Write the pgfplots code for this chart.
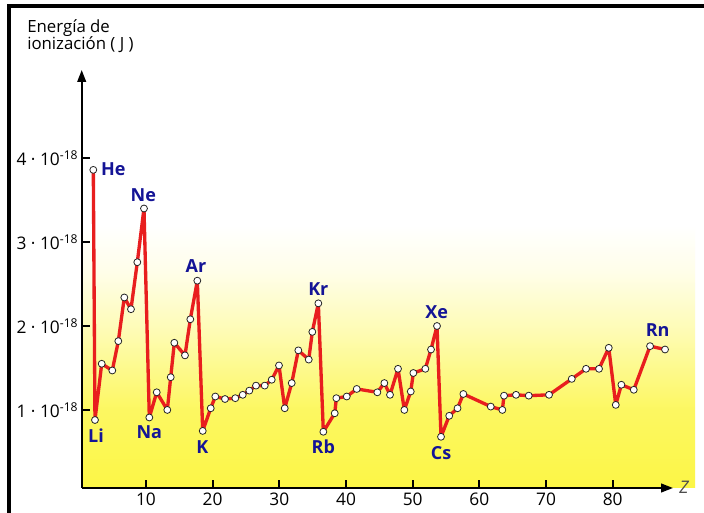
\documentclass[border=0pt]{standalone}
\usepackage{fontspec}
\setmainfont{Open Sans}
\usepackage{pgfplots}
\pgfplotsset{compat=1.18}
\usetikzlibrary{arrows.meta}
\definecolor{yel}{RGB}{252,246,70}
\definecolor{lred}{RGB}{232,30,30}
\definecolor{navy}{RGB}{20,20,150}
\pgfdeclareverticalshading{yelshade}{100bp}{color(0bp)=(yel); color(25bp)=(yel); color(40bp)=(yel!85!white); color(55bp)=(yel!40!white); color(66bp)=(yel!12!white); color(75bp)=(white); color(100bp)=(white)}
\begin{document}
\begin{tikzpicture}[x=0.75pt,y=0.75pt]
\useasboundingbox (0,0) rectangle (704,513);
\fill[white] (0,0) rectangle (704,513);
\shade[shading=yelshade] (82,25) rectangle (695,288);
\draw[line width=3pt] (9,0) -- (9,507) -- (704,507);
\node[anchor=base west, inner sep=0, font=\fontsize{12.6}{14}\selectfont] at (27,480) {Energía de};
\node[anchor=base west, inner sep=0, font=\fontsize{12.6}{14}\selectfont] at (27,463) {ionización ( J )};
\begin{axis}[
  at={(61.28pt,18.75pt)}, anchor=south west,
  scale only axis, width=443.5pt, height=313.5pt,
  xmin=0.36, xmax=89.05, ymin=0.07, ymax=5.05,
  axis x line=bottom, axis y line=left,
  axis line style={line width=1.5pt, -{Triangle[length=9pt,width=6.5pt]}},
  xtick={10,20,30,40,50,60,70,80},
  xticklabels={10,20,30,40,50,60,70,80},
  ytick={1,2,3,4},
  yticklabels={1 · 10\textsuperscript{-18},2 · 10\textsuperscript{-18},3 · 10\textsuperscript{-18},4 · 10\textsuperscript{-18}},
  minor tick num=0,
  tick align=inside, major tick length=6pt,
  tick style={black, line width=1.5pt},
  tick label style={font=\fontsize{13}{15}\selectfont},
  yticklabel style={xshift=1pt},
  clip=false,
]
\addplot[lred, line width=2.5pt, line join=round, mark=*, mark size=2.6pt,
  mark options={fill=white, draw=black!85, line width=0.6pt, solid}] coordinates {
(2.10,3.86) (2.35,0.88) (3.36,1.55) (4.95,1.47) (5.85,1.82) (6.75,2.34)
(7.75,2.20) (8.70,2.76) (9.70,3.40) (10.50,0.91) (11.61,1.21) (13.20,1.00)
(13.71,1.39) (14.25,1.80) (15.85,1.65) (16.65,2.08) (17.70,2.54) (18.51,0.75)
(19.71,1.02) (20.40,1.16) (21.85,1.13) (23.40,1.14) (24.51,1.18) (25.50,1.23)
(26.50,1.29) (27.81,1.29) (28.86,1.36) (29.95,1.53) (30.81,1.02) (31.86,1.32)
(32.85,1.71) (34.41,1.60) (34.95,1.93) (35.85,2.27) (36.60,0.74) (38.31,0.96)
(38.55,1.14) (40.11,1.16) (41.61,1.25) (44.70,1.21) (45.75,1.32) (46.60,1.18)
(47.80,1.49) (48.75,1.00) (49.71,1.22) (50.10,1.44) (51.90,1.49) (52.75,1.72)
(53.65,2.00) (54.25,0.68) (55.48,0.93) (56.73,1.02) (57.60,1.19) (61.71,1.04)
(63.45,1.00) (63.70,1.17) (65.50,1.18) (67.41,1.17) (70.45,1.18) (73.86,1.37)
(76.00,1.49) (77.95,1.49) (79.41,1.74) (80.46,1.06) (81.30,1.30) (83.16,1.24)
(85.60,1.76) (87.85,1.72)
};
\begin{scope}[every node/.style={text=navy, font=\bfseries\fontsize{13.5}{15}\selectfont, inner sep=0}]
\node at (axis cs:5.11,3.87) {He};
\node at (axis cs:9.6,3.56) {Ne};
\node at (axis cs:17.5,2.71) {Ar};
\node at (axis cs:2.5,0.69) {Li};
\node at (axis cs:10.5,0.74) {Na};
\node at (axis cs:18.45,0.56) {K};
\node at (axis cs:35.85,2.44) {Kr};
\node at (axis cs:36.6,0.56) {Rb};
\node at (axis cs:53.6,2.17) {Xe};
\node at (axis cs:54.25,0.49) {Cs};
\node at (axis cs:86.75,1.95) {Rn};
\end{scope}
\end{axis}
\node[font=\itshape\fontsize{13}{15}\selectfont, text=black!70, inner sep=0] at (684,26) {Z};
\end{tikzpicture}
\end{document}
